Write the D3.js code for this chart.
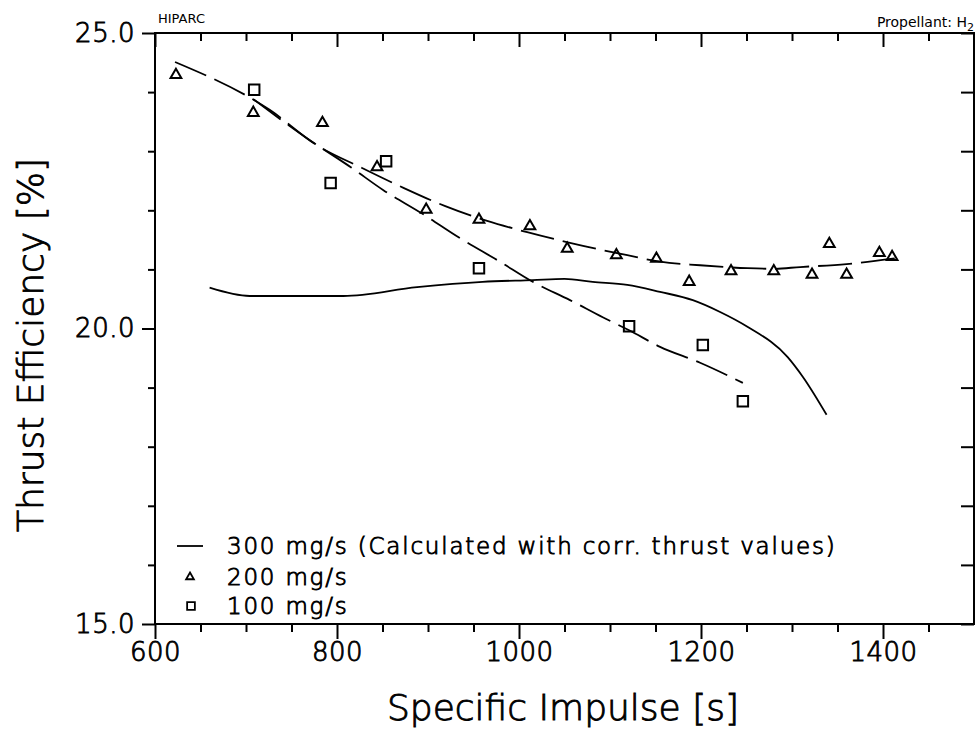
<!DOCTYPE html>
<html>
<head>
	<meta charset="utf-8">
	<title>HIPARC thrust efficiency</title>
	<script src="https://cdn.jsdelivr.net/npm/d3@7"></script>
	<style>
		*{
			padding: 0;
			margin: 0;
		}
		body{
			background: #fff;
		}
		svg{
			display: block;
		}
		text{
			font-family: "DejaVu Sans", sans-serif;
			fill: #000;
		}
		.thin{
			font-weight: 200;
			stroke: #000;
			stroke-width: 0.9px;
		}
		.domain{
			display: none;
		}
		.tick line{
			stroke: #000;
			stroke-width: 2;
		}
	</style>
</head>
<body>
	<svg id="chart" width="980" height="733"></svg>
	<script type="text/javascript">
		// ticks
		var xMajorTicks = [600, 800, 1000, 1200, 1400];
		var xMinorTicks = [650, 700, 750, 850, 900, 950, 1050, 1100, 1150, 1250, 1300, 1350, 1450];
		var yMajorTicks = [15, 20, 25];
		var yMinorTicks = [16, 17, 18, 19, 21, 22, 23, 24];

		// 300 mg/s (solid curve), [isp, efficiency]
		var curve300 = [[660, 20.69], [704, 20.55], [807, 20.55], [888, 20.70], [960, 20.79], [1015, 20.82],
			[1050, 20.84], [1081, 20.79], [1119, 20.74], [1155, 20.62], [1191, 20.48], [1221, 20.28],
			[1251, 20.03], [1295, 19.52], [1312, 19.18], [1338, 18.54]];

		// 200 mg/s measured points and fitted dashed curve
		var points200 = [[623, 24.29], [708, 23.65], [784, 23.48], [844, 22.73], [898, 22.01], [956, 21.84],
			[1012, 21.73], [1053, 21.35], [1107, 21.24], [1151, 21.18], [1187, 20.79], [1233, 20.97],
			[1280, 20.97], [1322, 20.91], [1341, 21.43], [1360, 20.91], [1396, 21.28], [1410, 21.21]];
		var fit200 = [[622, 24.51], [726, 23.70], [778, 23.10], [827, 22.72], [873, 22.38], [919, 22.07],
			[965, 21.82], [1009, 21.63], [1056, 21.45], [1119, 21.24], [1155, 21.13], [1199, 21.07],
			[1251, 21.02], [1279, 21.01], [1309, 21.04], [1360, 21.09], [1415, 21.19]];

		// 100 mg/s measured points and fitted dashed curve
		var points100 = [[709, 24.04], [793, 22.46], [854, 22.83], [956, 21.02], [1121, 20.04], [1202, 19.72], [1246, 18.77]];
		var fit100 = [[708, 23.88], [767, 23.22], [816, 22.72], [851, 22.34], [893, 21.95], [935, 21.53],
			[979, 21.13], [1015, 20.79], [1056, 20.48], [1092, 20.19], [1121, 19.97], [1155, 19.69],
			[1199, 19.42], [1246, 19.08]];

		var legendLabels = ["300 mg/s (Calculated with corr. thrust values)", "200 mg/s", "100 mg/s"];

		var padL = 155, padR = 974, padT = 33, padB = 624;
		var svg = d3.select("#chart");

		var x = d3.scaleLinear().domain([600, 1500]).range([padL, padR]);
		var y = d3.scaleLinear().domain([15, 25]).range([padB, padT]);

		//坐标轴：主刻度和次刻度分开画
		svg.append("g").attr("transform", "translate(0," + padB + ")")
			.call(d3.axisBottom(x).tickValues(xMajorTicks).tickSize(15).tickPadding(4).tickFormat(function (d) { return d; }))
			.selectAll("text").attr("class", "thin").style("font-size", "26px").style("letter-spacing", "0.5px");
		svg.append("g").attr("transform", "translate(0," + padB + ")")
			.call(d3.axisBottom(x).tickValues(xMinorTicks).tickSize(8).tickFormat(""));
		svg.append("g").attr("transform", "translate(0," + padT + ")")
			.call(d3.axisTop(x).tickValues(xMajorTicks).tickSize(-14).tickFormat(""));
		svg.append("g").attr("transform", "translate(0," + padT + ")")
			.call(d3.axisTop(x).tickValues(xMinorTicks).tickSize(-8).tickFormat(""));

		svg.append("g").attr("transform", "translate(" + padL + ",0)")
			.call(d3.axisLeft(y).tickValues(yMajorTicks).tickSize(13).tickPadding(7).tickFormat(d3.format(".1f")))
			.selectAll("text").attr("class", "thin").style("font-size", "26px").style("letter-spacing", "0.5px");
		svg.append("g").attr("transform", "translate(" + padL + ",0)")
			.call(d3.axisLeft(y).tickValues(yMinorTicks).tickSize(7).tickFormat(""));
		svg.append("g").attr("transform", "translate(" + padR + ",0)")
			.call(d3.axisRight(y).tickValues(yMajorTicks.concat(yMinorTicks)).tickSize(-13).tickFormat(""));

		// frame
		svg.append("rect")
			.attr("x", padL).attr("y", padT)
			.attr("width", padR - padL).attr("height", padB - padT)
			.attr("fill", "none").attr("stroke", "#000").attr("stroke-width", 2);

		var line = d3.line()
			.x(function (d) { return x(d[0]); })
			.y(function (d) { return y(d[1]); })
			.curve(d3.curveMonotoneX);

		svg.append("path").datum(curve300).attr("d", line)
			.attr("fill", "none").attr("stroke", "#000").attr("stroke-width", 1.8);
		svg.append("path").datum(fit200).attr("d", line)
			.attr("fill", "none").attr("stroke", "#000").attr("stroke-width", 1.8)
			.attr("stroke-dasharray", "34,9");
		svg.append("path").datum(fit100).attr("d", line)
			.attr("fill", "none").attr("stroke", "#000").attr("stroke-width", 1.8)
			.attr("stroke-dasharray", "34,9");

		var tri = d3.symbol().type(d3.symbolTriangle).size(50);
		var sq = d3.symbol().type(d3.symbolSquare).size(110);

		svg.append("g").selectAll("path").data(points200).enter().append("path")
			.attr("d", tri)
			.attr("transform", function (d) { return "translate(" + x(d[0]) + "," + y(d[1]) + ")"; })
			.attr("fill", "none").attr("stroke", "#000").attr("stroke-width", 2);
		svg.append("g").selectAll("path").data(points100).enter().append("path")
			.attr("d", sq)
			.attr("transform", function (d) { return "translate(" + x(d[0]) + "," + y(d[1]) + ")"; })
			.attr("fill", "none").attr("stroke", "#000").attr("stroke-width", 2);

		// legend
		var lg = svg.append("g").attr("transform", "translate(177,0)");
		var rowY = [546, 577, 606];
		lg.append("line").attr("x1", 0).attr("x2", 26).attr("y1", rowY[0]).attr("y2", rowY[0])
			.attr("stroke", "#000").attr("stroke-width", 1.8);
		lg.append("path").attr("d", d3.symbol().type(d3.symbolTriangle).size(26))
			.attr("transform", "translate(13," + rowY[1] + ")")
			.attr("fill", "none").attr("stroke", "#000").attr("stroke-width", 1.8);
		lg.append("path").attr("d", d3.symbol().type(d3.symbolSquare).size(60))
			.attr("transform", "translate(14," + rowY[2] + ")")
			.attr("fill", "none").attr("stroke", "#000").attr("stroke-width", 1.8);
		lg.selectAll("text.lab").data(legendLabels).enter().append("text")
			.attr("class", "lab thin")
			.attr("x", 50)
			.attr("y", function (d, i) { return rowY[i]; })
			.attr("dy", "0.36em")
			.style("font-size", "23px")
			.style("letter-spacing", "1.8px")
			.text(function (d) { return d; });

		// titles
		svg.append("text").attr("x", 158).attr("y", 23)
			.style("font-size", "13px").text("HIPARC");
		var prop = svg.append("text").attr("x", 974).attr("y", 27)
			.attr("text-anchor", "end").style("font-size", "14px");
		prop.append("tspan").text("Propellant: H");
		prop.append("tspan").attr("dy", 4).style("font-size", "11px").text("2");

		svg.append("text").attr("class", "thin").attr("x", 563).attr("y", 720)
			.attr("text-anchor", "middle").style("font-size", "36px")
			.text("Specific Impulse [s]");
		svg.append("text").attr("class", "thin")
			.attr("transform", "translate(43,345) rotate(-90)")
			.attr("text-anchor", "middle").style("font-size", "36px")
			.text("Thrust Efficiency [%]");
	</script>
</body>
</html>
